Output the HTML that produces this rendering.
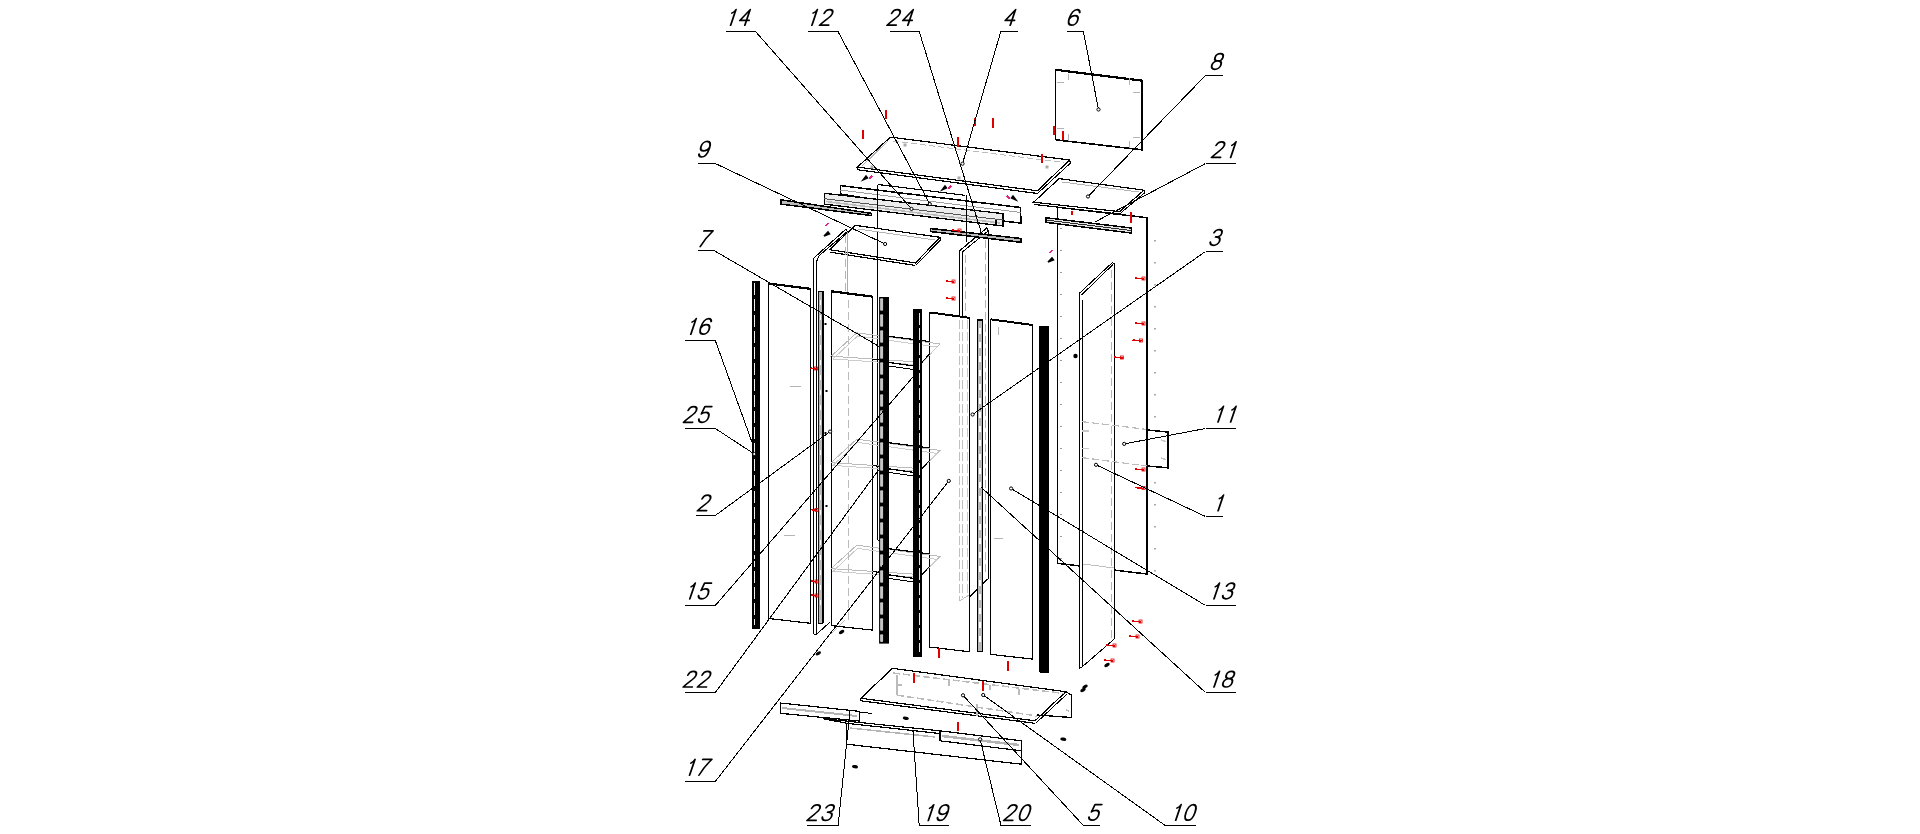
<!DOCTYPE html>
<html><head><meta charset="utf-8"><style>
html,body{margin:0;padding:0;background:#fff;width:1920px;height:834px;overflow:hidden}
svg{display:block}
line,polyline,polygon{shape-rendering:crispEdges}
.lb{font-family:"Liberation Sans",sans-serif;font-style:italic;font-size:23px;fill:#000}
</style></head><body>
<svg width="1920" height="834" viewBox="0 0 1920 834">
<polygon points="1055.8,69.8 1141.8,80.6 1141.8,149.8 1055.8,139.8" stroke="#000" stroke-width="1.2" fill="none" />
<line x1="1055.8" y1="139.8" x2="1141.8" y2="149.8" stroke="#000" stroke-width="1.6" />
<line x1="1141.8" y1="80" x2="1141.8" y2="150.5" stroke="#000" stroke-width="2.2" />
<line x1="1055.8" y1="69.8" x2="1141.8" y2="80.6" stroke="#000" stroke-width="2.2" />
<line x1="1068" y1="74" x2="1068" y2="80" stroke="#b4b4b4" stroke-width="1" />
<line x1="1129" y1="78" x2="1129" y2="85" stroke="#b4b4b4" stroke-width="1" />
<line x1="1057" y1="82" x2="1064" y2="82" stroke="#b4b4b4" stroke-width="1" />
<line x1="1133" y1="92" x2="1140" y2="92" stroke="#b4b4b4" stroke-width="1" />
<line x1="1057" y1="128" x2="1064" y2="128" stroke="#b4b4b4" stroke-width="1" />
<line x1="1133" y1="137" x2="1140" y2="137" stroke="#b4b4b4" stroke-width="1" />
<line x1="1068" y1="134" x2="1068" y2="141" stroke="#b4b4b4" stroke-width="1" />
<line x1="1129" y1="141" x2="1129" y2="148" stroke="#b4b4b4" stroke-width="1" />
<line x1="1053.5" y1="126" x2="1053.5" y2="135" stroke="#e00000" stroke-width="2" />
<line x1="1062.5" y1="131" x2="1062.5" y2="140" stroke="#e00000" stroke-width="2" />
<polygon points="890.4,137.1 1069.5,160 1037.5,190.8 857.4,167.1" stroke="#000" stroke-width="1.2" fill="#fff" />
<line x1="858" y1="169.8" x2="1037.5" y2="193.5" stroke="#000" stroke-width="1.2" />
<line x1="857.4" y1="167.1" x2="858" y2="169.8" stroke="#000" stroke-width="1" />
<line x1="1069.5" y1="160" x2="1070.5" y2="163" stroke="#000" stroke-width="1" />
<line x1="1070.5" y1="163" x2="1037.5" y2="193.5" stroke="#000" stroke-width="1" />
<line x1="893" y1="141" x2="1064" y2="162.5" stroke="#bbb" stroke-width="1" stroke-dasharray="6 3"/>
<line x1="862" y1="166" x2="888" y2="141" stroke="#b4b4b4" stroke-width="1" />
<line x1="862.5" y1="130" x2="862.5" y2="139" stroke="#e00000" stroke-width="2" />
<line x1="885.5" y1="110" x2="885.5" y2="119" stroke="#e00000" stroke-width="2" />
<line x1="958" y1="137" x2="958" y2="147" stroke="#e00000" stroke-width="2" />
<line x1="975" y1="118" x2="975" y2="126" stroke="#e00000" stroke-width="2" />
<line x1="993" y1="118" x2="993" y2="128" stroke="#e00000" stroke-width="2" />
<line x1="1041.5" y1="154" x2="1041.5" y2="163" stroke="#e00000" stroke-width="2" />
<rect x="870.5" y="165.5" width="3" height="3" fill="#aaa"/>
<rect x="957.5" y="176.5" width="3" height="3" fill="#aaa"/>
<rect x="903.5" y="143.5" width="3" height="3" fill="#aaa"/>
<rect x="1045.5" y="165.5" width="3" height="3" fill="#aaa"/>
<rect x="1056.5" y="183.5" width="3" height="3" fill="#aaa"/>
<path d="M863,180 L866,176 L867.5,178 Z" fill="#000" stroke="#000" stroke-width="1.5"/>
<line x1="869" y1="179" x2="872" y2="176" stroke="#e0208a" stroke-width="1.8" />
<path d="M942,190 L945,186 L946.5,188 Z" fill="#000" stroke="#000" stroke-width="1.5"/>
<line x1="948" y1="189" x2="951" y2="186" stroke="#e0208a" stroke-width="1.8" />
<path d="M1016,200 L1013,196 L1011.5,198 Z" fill="#000" stroke="#000" stroke-width="1.5"/>
<line x1="1010" y1="199" x2="1007" y2="196" stroke="#e0208a" stroke-width="1.8" />
<polygon points="1059,178.6 1144,190.2 1119.5,211.6 1033.6,202.2" stroke="#000" stroke-width="1.2" fill="#fff" />
<line x1="1033.6" y1="204.4" x2="1119.5" y2="214.1" stroke="#000" stroke-width="1.2" />
<line x1="1144" y1="190.2" x2="1145" y2="192.5" stroke="#000" stroke-width="1" />
<line x1="1145" y1="192.5" x2="1119.5" y2="214.1" stroke="#000" stroke-width="1" />
<line x1="1062" y1="182" x2="1139" y2="192" stroke="#b4b4b4" stroke-width="1" />
<polygon points="1057.5,207.2 1146.8,217.7 1146.8,574 1057.5,563.3" stroke="#000" stroke-width="1.5" fill="#fff" />
<line x1="1146.8" y1="217.7" x2="1146.8" y2="574" stroke="#000" stroke-width="2" />
<rect x="1060" y="228" width="2" height="1" fill="#999"/>
<rect x="1154" y="240" width="2" height="1.5" fill="#aaa"/>
<rect x="1060" y="250" width="2" height="1" fill="#999"/>
<rect x="1154" y="262" width="2" height="1.5" fill="#aaa"/>
<rect x="1060" y="272" width="2" height="1" fill="#999"/>
<rect x="1154" y="284" width="2" height="1.5" fill="#aaa"/>
<rect x="1060" y="294" width="2" height="1" fill="#999"/>
<rect x="1154" y="306" width="2" height="1.5" fill="#aaa"/>
<rect x="1060" y="316" width="2" height="1" fill="#999"/>
<rect x="1154" y="328" width="2" height="1.5" fill="#aaa"/>
<rect x="1060" y="338" width="2" height="1" fill="#999"/>
<rect x="1154" y="350" width="2" height="1.5" fill="#aaa"/>
<rect x="1060" y="360" width="2" height="1" fill="#999"/>
<rect x="1154" y="372" width="2" height="1.5" fill="#aaa"/>
<rect x="1060" y="382" width="2" height="1" fill="#999"/>
<rect x="1154" y="394" width="2" height="1.5" fill="#aaa"/>
<rect x="1060" y="404" width="2" height="1" fill="#999"/>
<rect x="1154" y="416" width="2" height="1.5" fill="#aaa"/>
<rect x="1060" y="426" width="2" height="1" fill="#999"/>
<rect x="1154" y="438" width="2" height="1.5" fill="#aaa"/>
<rect x="1060" y="448" width="2" height="1" fill="#999"/>
<rect x="1154" y="460" width="2" height="1.5" fill="#aaa"/>
<rect x="1060" y="470" width="2" height="1" fill="#999"/>
<rect x="1154" y="482" width="2" height="1.5" fill="#aaa"/>
<rect x="1060" y="492" width="2" height="1" fill="#999"/>
<rect x="1154" y="504" width="2" height="1.5" fill="#aaa"/>
<rect x="1060" y="514" width="2" height="1" fill="#999"/>
<rect x="1154" y="526" width="2" height="1.5" fill="#aaa"/>
<rect x="1060" y="536" width="2" height="1" fill="#999"/>
<rect x="1154" y="548" width="2" height="1.5" fill="#aaa"/>
<rect x="1060" y="558" width="2" height="1" fill="#999"/>
<rect x="1154" y="570" width="2" height="1.5" fill="#aaa"/>
<polyline points="1147.6,430 1167.8,432 1167.8,467.8 1147.6,466" stroke="#000" stroke-width="1.5" fill="#fff" />
<line x1="1135" y1="278" x2="1144" y2="279" stroke="#e00000" stroke-width="1.5" />
<rect x="1142" y="277" width="3" height="3" fill="none" stroke="#e00000" stroke-width="0.8"/>
<line x1="1135" y1="323" x2="1144" y2="324" stroke="#e00000" stroke-width="1.5" />
<rect x="1142" y="322" width="3" height="3" fill="none" stroke="#e00000" stroke-width="0.8"/>
<line x1="1132.5" y1="340" x2="1141.5" y2="341" stroke="#e00000" stroke-width="1.5" />
<rect x="1139.5" y="339" width="3" height="3" fill="none" stroke="#e00000" stroke-width="0.8"/>
<line x1="1135" y1="469" x2="1144" y2="470" stroke="#e00000" stroke-width="1.5" />
<rect x="1142" y="468" width="3" height="3" fill="none" stroke="#e00000" stroke-width="0.8"/>
<line x1="1135" y1="487.5" x2="1144" y2="488.5" stroke="#e00000" stroke-width="1.5" />
<rect x="1142" y="486.5" width="3" height="3" fill="none" stroke="#e00000" stroke-width="0.8"/>
<line x1="1132" y1="621" x2="1141" y2="622" stroke="#e00000" stroke-width="1.5" />
<rect x="1139" y="620" width="3" height="3" fill="none" stroke="#e00000" stroke-width="0.8"/>
<line x1="1129" y1="636" x2="1138" y2="637" stroke="#e00000" stroke-width="1.5" />
<rect x="1136" y="635" width="3" height="3" fill="none" stroke="#e00000" stroke-width="0.8"/>
<line x1="1146.8" y1="217.7" x2="1146.8" y2="574" stroke="#000" stroke-width="2" />
<polygon points="1045.8,217.7 1131.4,228 1131.4,233 1045.8,222.3" stroke="#000" stroke-width="1.5" fill="#e4e4e4" />
<path d="M1048,262 L1052,258 L1053.5,260 Z" fill="#000" stroke="#000" stroke-width="1.5"/>
<line x1="1050" y1="253" x2="1052" y2="250" stroke="#e0208a" stroke-width="1.8" />
<line x1="1045.8" y1="220" x2="1131.4" y2="230.5" stroke="#000" stroke-width="0.8" />
<line x1="1130.5" y1="212" x2="1130.5" y2="223" stroke="#e00000" stroke-width="2" />
<line x1="1072" y1="211" x2="1072" y2="215" stroke="#e00000" stroke-width="2" />
<polygon points="1079.8,292.9 1112.2,262.7 1114.3,263.5 1114.3,639 1082.4,666.6 1079.6,668.2" stroke="#000" stroke-width="1.0" fill="#fff" />
<line x1="1082.3" y1="300.4" x2="1082.3" y2="666.6" stroke="#000" stroke-width="1" />
<line x1="1081.5" y1="295" x2="1113" y2="264.5" stroke="#000" stroke-width="1" />
<line x1="1111.8" y1="270" x2="1111.8" y2="640" stroke="#b4b4b4" stroke-width="1" stroke-dasharray="8 4"/>
<circle cx="1075.5" cy="356" r="2.2" fill="#000"/>
<line x1="1113.6" y1="357" x2="1122.6" y2="358" stroke="#e00000" stroke-width="1.5" />
<rect x="1120.6" y="356" width="3" height="3" fill="none" stroke="#e00000" stroke-width="0.8"/>
<line x1="1106" y1="645" x2="1115" y2="646" stroke="#e00000" stroke-width="1.5" />
<rect x="1113" y="644" width="3" height="3" fill="none" stroke="#e00000" stroke-width="0.8"/>
<line x1="1104" y1="660" x2="1113" y2="661" stroke="#e00000" stroke-width="1.5" />
<rect x="1111" y="659" width="3" height="3" fill="none" stroke="#e00000" stroke-width="0.8"/>
<ellipse cx="1083" cy="690" rx="3" ry="1.6" fill="#000" transform="rotate(-30 1083 690)"/>
<ellipse cx="1107" cy="665" rx="3" ry="1.6" fill="#000" transform="rotate(-30 1107 665)"/>
<polyline points="959.4,596 959.4,250.9 986.8,227.9 988.2,230.8 988.2,578.7 970,596.3" stroke="#000" stroke-width="1.2" fill="#fff" />
<line x1="962.3" y1="252" x2="962.3" y2="596" stroke="#000" stroke-width="1" />
<line x1="962.3" y1="252" x2="988" y2="231" stroke="#000" stroke-width="1" />
<line x1="965.9" y1="255" x2="965.9" y2="590" stroke="#b4b4b4" stroke-width="1" stroke-dasharray="8 4"/>
<line x1="985.8" y1="240" x2="985.8" y2="575" stroke="#b4b4b4" stroke-width="1" stroke-dasharray="8 4"/>
<line x1="946" y1="281" x2="954" y2="282" stroke="#e00000" stroke-width="1.5" />
<rect x="952" y="280" width="3" height="3" fill="none" stroke="#e00000" stroke-width="0.8"/>
<line x1="946" y1="298" x2="954" y2="299" stroke="#e00000" stroke-width="1.5" />
<rect x="952" y="297" width="3" height="3" fill="none" stroke="#e00000" stroke-width="0.8"/>
<polygon points="840.4,185.6 1020.5,207.5 1021,223.1 1003,221 840.4,194" stroke="#000" stroke-width="1.5" fill="#fff" />
<line x1="878.3" y1="184.5" x2="965" y2="195.3" stroke="#000" stroke-width="1.2" />
<line x1="840.4" y1="190" x2="1020.5" y2="212.5" stroke="#888" stroke-width="0.8" />
<polygon points="824.2,193.3 1002.9,213.6 1002.9,226 824.2,204.1" stroke="#000" stroke-width="1.3" fill="#ececec" />
<line x1="824.2" y1="198.7" x2="1002.9" y2="220" stroke="#555" stroke-width="1.0" />
<line x1="826" y1="201.5" x2="1000" y2="223" stroke="#bbb" stroke-width="1.5" />
<line x1="996" y1="219.5" x2="996" y2="226" stroke="#000" stroke-width="1.2" />
<polygon points="780.8,199.8 871.6,213.4 871.6,215.6 780.8,204.1" stroke="#000" stroke-width="1.5" fill="#bbb" />
<polygon points="930.5,228.5 1021.2,238.5 1021.2,242.3 930.5,231.5" stroke="#000" stroke-width="1.6" fill="#bbb" />
<line x1="952" y1="230" x2="960" y2="231" stroke="#e00000" stroke-width="1.5" />
<rect x="958" y="229" width="3" height="3" fill="none" stroke="#e00000" stroke-width="0.8"/>
<line x1="877.7" y1="184.5" x2="877.7" y2="540" stroke="#000" stroke-width="1" />
<line x1="877.7" y1="540" x2="885" y2="540" stroke="#000" stroke-width="1" />
<line x1="966.3" y1="195" x2="966.3" y2="241.6" stroke="#000" stroke-width="1" />
<polygon points="855.2,225.3 940,237.3 915.5,262.9 829.7,249.7" stroke="#000" stroke-width="1.2" fill="#fff" />
<line x1="829.7" y1="252.1" x2="915.5" y2="265.5" stroke="#000" stroke-width="1.2" />
<line x1="940" y1="237.3" x2="940.5" y2="240" stroke="#000" stroke-width="1" />
<line x1="940.5" y1="240" x2="915.5" y2="265.5" stroke="#000" stroke-width="1" />
<line x1="858" y1="229" x2="935" y2="240" stroke="#b4b4b4" stroke-width="1" />
<line x1="847" y1="232" x2="847" y2="300" stroke="#aaa" stroke-width="1" />
<line x1="877.7" y1="232" x2="877.7" y2="262" stroke="#000" stroke-width="1" />
<path d="M824,236 L828,232 L829.5,234 Z" fill="#000" stroke="#000" stroke-width="1.5"/>
<line x1="826" y1="226" x2="828" y2="223" stroke="#e0208a" stroke-width="1.8" />
<polyline points="813.4,633.7 813.4,258.4 846,229.1 847.5,231.5 819.2,255.5 816.3,262 816.3,634.6" stroke="#000" stroke-width="1.1" fill="#fff" />
<line x1="813.4" y1="633.7" x2="816.3" y2="634.6" stroke="#000" stroke-width="1" />
<line x1="816.3" y1="634.6" x2="830" y2="622" stroke="#000" stroke-width="1" />
<line x1="845.5" y1="235" x2="845.5" y2="620" stroke="#b4b4b4" stroke-width="1" stroke-dasharray="8 4"/>
<polygon points="768.8,283.5 810.5,288.9 810.5,623.3 768.8,618.5" stroke="#000" stroke-width="1.2" fill="#fff" />
<line x1="768.8" y1="283.5" x2="810.7" y2="288.9" stroke="#000" stroke-width="2.2" />
<line x1="790" y1="386" x2="801" y2="387" stroke="#b4b4b4" stroke-width="1" />
<line x1="784" y1="535" x2="795" y2="536" stroke="#b4b4b4" stroke-width="1" />
<polygon points="831.4,291.3 872.5,296.7 872.5,630.1 831.4,625.6" stroke="#000" stroke-width="1.2" fill="#fff" />
<line x1="831.4" y1="291.3" x2="872.9" y2="296.7" stroke="#000" stroke-width="2.2" />
<polygon points="929.5,312.4 969.5,317.8 969.5,651.8 929.5,647" stroke="#000" stroke-width="1.2" fill="#fff" />
<line x1="929.5" y1="312.4" x2="969.5" y2="317.8" stroke="#000" stroke-width="2" />
<polygon points="990.4,319.3 1032.5,325 1032.5,659.1 990.4,654.3" stroke="#000" stroke-width="1.2" fill="#fff" />
<line x1="990.4" y1="319.3" x2="1032.5" y2="325" stroke="#000" stroke-width="2" />
<line x1="998" y1="327" x2="998" y2="335" stroke="#b4b4b4" stroke-width="1" />
<line x1="994" y1="538" x2="1003" y2="539" stroke="#b4b4b4" stroke-width="1" />
<line x1="1008" y1="661" x2="1008" y2="671" stroke="#e00000" stroke-width="2" />
<line x1="939" y1="648" x2="939" y2="658" stroke="#e00000" stroke-width="2" />
<polygon points="831.2,356.2 856.7,332.8 940.3,344 922,362.3" stroke="#bbb" stroke-width="1" fill="none" />
<polygon points="833,359 857.5,336 937,347 920,365" stroke="#ccc" stroke-width="1" fill="none" />
<line x1="831.2" y1="356.2" x2="831.2" y2="360" stroke="#000" stroke-width="1.3" />
<polygon points="831.2,462.6 856.7,439.20000000000005 940.3,450.4 922,468.70000000000005" stroke="#bbb" stroke-width="1" fill="none" />
<polygon points="833,465.4 857.5,442.4 937,453.4 920,471.4" stroke="#ccc" stroke-width="1" fill="none" />
<line x1="831.2" y1="462.6" x2="831.2" y2="466.4" stroke="#000" stroke-width="1.3" />
<polygon points="831.2,568.6 856.7,545.2 940.3,556.4 922,574.7" stroke="#bbb" stroke-width="1" fill="none" />
<polygon points="833,571.4 857.5,548.4 937,559.4 920,577.4" stroke="#ccc" stroke-width="1" fill="none" />
<line x1="831.2" y1="568.6" x2="831.2" y2="572.4" stroke="#000" stroke-width="1.3" />
<line x1="959.7" y1="320" x2="959.7" y2="601" stroke="#c0c0c0" stroke-width="1" stroke-dasharray="9 3"/>
<line x1="962.8" y1="320" x2="962.8" y2="598" stroke="#c0c0c0" stroke-width="1" stroke-dasharray="9 3"/>
<line x1="967.9" y1="320" x2="967.9" y2="596" stroke="#c8c8c8" stroke-width="1" stroke-dasharray="9 3"/>
<line x1="959.7" y1="601" x2="969" y2="595" stroke="#c0c0c0" stroke-width="1" />
<line x1="1083" y1="564" x2="1114" y2="568" stroke="#c0c0c0" stroke-width="1" />
<line x1="1082" y1="421.6" x2="1146.5" y2="429.4" stroke="#bbb" stroke-width="1.2" stroke-dasharray="7 3"/>
<line x1="1082" y1="457.6" x2="1146.5" y2="466" stroke="#bbb" stroke-width="1.2" stroke-dasharray="7 3"/>
<line x1="1082" y1="431" x2="1089" y2="431" stroke="#c8c8c8" stroke-width="1.5" />
<line x1="1082" y1="448.6" x2="1089" y2="448.6" stroke="#c8c8c8" stroke-width="1.5" />
<line x1="1161" y1="440" x2="1166" y2="441.5" stroke="#c8c8c8" stroke-width="1.5" />
<line x1="1161" y1="458" x2="1166" y2="459.5" stroke="#c8c8c8" stroke-width="1.5" />
<line x1="848" y1="300" x2="848" y2="620" stroke="#bbb" stroke-width="1" stroke-dasharray="8 4"/>
<line x1="845" y1="620" x2="830" y2="635" stroke="#bbb" stroke-width="1" stroke-dasharray="8 4"/>
<line x1="888.6" y1="336.3" x2="929.5" y2="341.5" stroke="#000" stroke-width="1.2" />
<line x1="888.6" y1="362.4" x2="913.8" y2="366" stroke="#000" stroke-width="1.2" />
<line x1="888.6" y1="366" x2="913.8" y2="369.6" stroke="#000" stroke-width="1.0" />
<line x1="922" y1="362.3" x2="929.5" y2="354" stroke="#000" stroke-width="1.1" />
<line x1="872.9" y1="359" x2="879" y2="360" stroke="#000" stroke-width="1.1" />
<line x1="888.6" y1="442.70000000000005" x2="929.5" y2="447.9" stroke="#000" stroke-width="1.2" />
<line x1="888.6" y1="468.79999999999995" x2="913.8" y2="472.4" stroke="#000" stroke-width="1.2" />
<line x1="888.6" y1="472.4" x2="913.8" y2="476.0" stroke="#000" stroke-width="1.0" />
<line x1="922" y1="468.70000000000005" x2="929.5" y2="460.4" stroke="#000" stroke-width="1.1" />
<line x1="872.9" y1="465.4" x2="879" y2="466.4" stroke="#000" stroke-width="1.1" />
<line x1="888.6" y1="548.7" x2="929.5" y2="553.9" stroke="#000" stroke-width="1.2" />
<line x1="888.6" y1="574.8" x2="913.8" y2="578.4" stroke="#000" stroke-width="1.2" />
<line x1="888.6" y1="578.4" x2="913.8" y2="582.0" stroke="#000" stroke-width="1.0" />
<line x1="922" y1="574.7" x2="929.5" y2="566.4" stroke="#000" stroke-width="1.1" />
<line x1="872.9" y1="571.4" x2="879" y2="572.4" stroke="#000" stroke-width="1.1" />
<polygon points="752.4,281.5 759.6,282 759.6,628 752.4,628" stroke="#000" stroke-width="1" fill="#000" stroke-linejoin="round"/>
<line x1="754.6" y1="283" x2="754.6" y2="625" stroke="#eee" stroke-width="1.0" stroke-dasharray="12 4"/>
<rect x="818.3" y="291.3" width="5.5" height="331.7" fill="#b8b8b8" />
<line x1="818.4" y1="291.3" x2="818.4" y2="623" stroke="#000" stroke-width="0.9" />
<line x1="823.2" y1="291.3" x2="823.2" y2="623" stroke="#000" stroke-width="1.6" />
<line x1="818.4" y1="291.5" x2="823.2" y2="291.5" stroke="#000" stroke-width="1" />
<line x1="820.6" y1="300" x2="820.6" y2="615" stroke="#fff" stroke-width="1.6" stroke-dasharray="5 10"/>
<line x1="818.4" y1="623" x2="823.2" y2="623" stroke="#000" stroke-width="1" />
<line x1="810.5" y1="368" x2="816.5" y2="369" stroke="#e00000" stroke-width="1.5" />
<rect x="814.5" y="367" width="3" height="3" fill="none" stroke="#e00000" stroke-width="0.8"/>
<line x1="811" y1="509.5" x2="817" y2="510.5" stroke="#e00000" stroke-width="1.5" />
<rect x="815" y="508.5" width="3" height="3" fill="none" stroke="#e00000" stroke-width="0.8"/>
<line x1="811" y1="581" x2="817" y2="582" stroke="#e00000" stroke-width="1.5" />
<rect x="815" y="580" width="3" height="3" fill="none" stroke="#e00000" stroke-width="0.8"/>
<line x1="811" y1="595" x2="817" y2="596" stroke="#e00000" stroke-width="1.5" />
<rect x="815" y="594" width="3" height="3" fill="none" stroke="#e00000" stroke-width="0.8"/>
<rect x="824.5" y="323" width="2" height="2" fill="#000"/>
<rect x="825.5" y="390" width="2" height="2" fill="#000"/>
<rect x="824.5" y="432" width="2" height="2" fill="#000"/>
<rect x="825.5" y="505" width="2" height="2" fill="#000"/>
<rect x="879.1" y="297" width="9.9" height="346.6" fill="#000" />
<rect x="880.1" y="298.3" width="3" height="12.5" rx="1" fill="#c4c4c4"/>
<rect x="880.1" y="314.3" width="3" height="12.5" rx="1" fill="#c4c4c4"/>
<rect x="880.1" y="330.3" width="3" height="12.5" rx="1" fill="#c4c4c4"/>
<rect x="880.1" y="346.3" width="3" height="12.5" rx="1" fill="#c4c4c4"/>
<rect x="880.1" y="362.3" width="3" height="12.5" rx="1" fill="#c4c4c4"/>
<rect x="880.1" y="378.3" width="3" height="12.5" rx="1" fill="#c4c4c4"/>
<rect x="880.1" y="394.3" width="3" height="12.5" rx="1" fill="#c4c4c4"/>
<rect x="880.1" y="410.3" width="3" height="12.5" rx="1" fill="#c4c4c4"/>
<rect x="880.1" y="426.3" width="3" height="12.5" rx="1" fill="#c4c4c4"/>
<rect x="880.1" y="442.3" width="3" height="12.5" rx="1" fill="#c4c4c4"/>
<rect x="880.1" y="458.3" width="3" height="12.5" rx="1" fill="#c4c4c4"/>
<rect x="880.1" y="474.3" width="3" height="12.5" rx="1" fill="#c4c4c4"/>
<rect x="880.1" y="490.3" width="3" height="12.5" rx="1" fill="#c4c4c4"/>
<rect x="880.1" y="506.3" width="3" height="12.5" rx="1" fill="#c4c4c4"/>
<rect x="880.1" y="522.3" width="3" height="12.5" rx="1" fill="#c4c4c4"/>
<rect x="880.1" y="538.3" width="3" height="12.5" rx="1" fill="#c4c4c4"/>
<rect x="880.1" y="554.3" width="3" height="12.5" rx="1" fill="#c4c4c4"/>
<rect x="880.1" y="570.3" width="3" height="12.5" rx="1" fill="#c4c4c4"/>
<rect x="880.1" y="586.3" width="3" height="12.5" rx="1" fill="#c4c4c4"/>
<rect x="880.1" y="602.3" width="3" height="12.5" rx="1" fill="#c4c4c4"/>
<rect x="880.1" y="618.3" width="3" height="12.5" rx="1" fill="#c4c4c4"/>
<rect x="880.1" y="634.3" width="3" height="7.7" rx="1" fill="#c4c4c4"/>
<polygon points="913.2,309.3 921.7,309.3 921.7,656.2 913.2,656.2" stroke="#000" stroke-width="1" fill="#000" stroke-linejoin="round"/>
<line x1="919.5" y1="313" x2="919.5" y2="652" stroke="#e8e8e8" stroke-width="1.2" stroke-dasharray="12 3"/>
<rect x="977.4" y="320" width="5" height="331.8" fill="#b8b8b8" />
<polygon points="977.4,320 982.4,320 982.4,651.8 977.4,651.8" stroke="#000" stroke-width="1.2" fill="none" />
<line x1="979.9" y1="328" x2="979.9" y2="645" stroke="#fff" stroke-width="1.3" stroke-dasharray="6 8"/>
<polygon points="1039.5,326 1048.5,326 1048.6,672 1039.5,672" stroke="#000" stroke-width="1" fill="#000" stroke-linejoin="round"/>
<polygon points="892.5,668.3 1065.8,691.7 1035,720.8 860.8,698.3" stroke="#000" stroke-width="1.2" fill="#fff" />
<line x1="860.8" y1="700.8" x2="1035" y2="723.3" stroke="#000" stroke-width="1.2" />
<line x1="860.8" y1="698.3" x2="860.8" y2="700.8" stroke="#000" stroke-width="1" />
<polyline points="1065.8,691.7 1071.3,695 1071.3,717.5 1036.7,715" stroke="#000" stroke-width="1.3" fill="none" />
<line x1="1067" y1="694" x2="1036" y2="723" stroke="#000" stroke-width="1" />
<line x1="893" y1="673" x2="1064" y2="693.5" stroke="#bbb" stroke-width="1.5" stroke-dasharray="7 3"/>
<line x1="897" y1="675" x2="897" y2="695" stroke="#bbb" stroke-width="1.5" />
<line x1="897" y1="695.2" x2="1037" y2="716" stroke="#bbb" stroke-width="1.5" stroke-dasharray="7 3"/>
<line x1="949" y1="679.5" x2="949" y2="686" stroke="#bbb" stroke-width="1.5" />
<line x1="1019" y1="689" x2="1019" y2="695" stroke="#bbb" stroke-width="1.5" />
<line x1="990" y1="685" x2="990" y2="690" stroke="#bbb" stroke-width="1.5" />
<line x1="897" y1="685" x2="902" y2="685" stroke="#bbb" stroke-width="1.5" />
<line x1="977" y1="704" x2="977" y2="716" stroke="#bbb" stroke-width="1.5" />
<line x1="1066" y1="710" x2="1069" y2="711" stroke="#bbb" stroke-width="1.5" />
<line x1="914" y1="673" x2="914" y2="683" stroke="#e00000" stroke-width="2" />
<line x1="983" y1="681" x2="983" y2="691" stroke="#e00000" stroke-width="2" />
<line x1="958" y1="722" x2="958" y2="731" stroke="#e00000" stroke-width="2" />
<ellipse cx="905.8" cy="718.3" rx="3" ry="1.6" fill="#000" transform="rotate(10 905.8 718.3)"/>
<ellipse cx="1063.3" cy="739.2" rx="3" ry="1.6" fill="#000" transform="rotate(10 1063.3 739.2)"/>
<ellipse cx="855" cy="766.7" rx="3" ry="1.6" fill="#000" transform="rotate(10 855 766.7)"/>
<ellipse cx="1085" cy="686.7" rx="3" ry="1.6" fill="#000" transform="rotate(-30 1085 686.7)"/>
<ellipse cx="818.3" cy="653.3" rx="3" ry="1.6" fill="#000" transform="rotate(-30 818.3 653.3)"/>
<ellipse cx="841.6" cy="632" rx="3" ry="1.6" fill="#000" transform="rotate(-30 841.6 632)"/>
<polygon points="780.3,703 859.2,711.3 859.2,721 780.3,713.3" stroke="#000" stroke-width="1.2" fill="#fff" />
<line x1="782" y1="708" x2="857" y2="716" stroke="#b4b4b4" stroke-width="2" />
<line x1="859.2" y1="712" x2="872" y2="713.5" stroke="#000" stroke-width="1" />
<polygon points="823.3,718.7 940,730.8 1021.3,740.8 1021.3,764.2 846.7,744.2 846.7,723.3" stroke="#000" stroke-width="1.2" fill="#fff" />
<line x1="846.7" y1="723.3" x2="940" y2="733.5" stroke="#000" stroke-width="1.2" />
<line x1="940" y1="730.8" x2="940" y2="740.8" stroke="#000" stroke-width="1.2" />
<line x1="940" y1="740.8" x2="1021.3" y2="750.8" stroke="#000" stroke-width="1.2" />
<line x1="942" y1="736" x2="1019" y2="745" stroke="#b4b4b4" stroke-width="2.5" />
<line x1="850" y1="728" x2="935" y2="737" stroke="#b4b4b4" stroke-width="1.5" />
<path d="M2.2,-12.8 C3.6,-13.6 4.6,-14.8 5.0,-16.5 L5.0,0" transform="translate(725.66,25.2) matrix(1,0,-0.3215,0.9455,0,0)" fill="none" stroke="#000" stroke-width="1.85" stroke-linecap="round" stroke-linejoin="round"/>
<path d="M6.6,0 L6.6,-16.5 L0,-5.0 L9.2,-5.0" transform="translate(738.26,25.2) matrix(1,0,-0.3215,0.9455,0,0)" fill="none" stroke="#000" stroke-width="1.85" stroke-linecap="round" stroke-linejoin="round"/>
<line x1="726" y1="31.5" x2="755.5" y2="31.5" stroke="#000" stroke-width="1.1" />
<line x1="755.5" y1="31.5" x2="911.5" y2="208.9" stroke="#000" stroke-width="1.0" />
<circle cx="911.5" cy="208.9" r="1.6" stroke="#000" stroke-width="1" fill="#fff"/>
<path d="M2.2,-12.8 C3.6,-13.6 4.6,-14.8 5.0,-16.5 L5.0,0" transform="translate(806.96,25.2) matrix(1,0,-0.3215,0.9455,0,0)" fill="none" stroke="#000" stroke-width="1.85" stroke-linecap="round" stroke-linejoin="round"/>
<path d="M0.6,-12.6 C1.0,-15.2 2.7,-16.5 4.7,-16.5 C7.0,-16.5 8.8,-14.9 8.8,-12.5 C8.8,-8.7 4.5,-6.6 0,0 L9,0" transform="translate(819.56,25.2) matrix(1,0,-0.3215,0.9455,0,0)" fill="none" stroke="#000" stroke-width="1.85" stroke-linecap="round" stroke-linejoin="round"/>
<line x1="808" y1="31.5" x2="838" y2="31.5" stroke="#000" stroke-width="1.1" />
<line x1="838" y1="31.5" x2="929.8" y2="204.1" stroke="#000" stroke-width="1.0" />
<circle cx="929.8" cy="204.1" r="1.6" stroke="#000" stroke-width="1" fill="#fff"/>
<path d="M0.6,-12.6 C1.0,-15.2 2.7,-16.5 4.7,-16.5 C7.0,-16.5 8.8,-14.9 8.8,-12.5 C8.8,-8.7 4.5,-6.6 0,0 L9,0" transform="translate(887.06,25.2) matrix(1,0,-0.3215,0.9455,0,0)" fill="none" stroke="#000" stroke-width="1.85" stroke-linecap="round" stroke-linejoin="round"/>
<path d="M6.6,0 L6.6,-16.5 L0,-5.0 L9.2,-5.0" transform="translate(901.26,25.2) matrix(1,0,-0.3215,0.9455,0,0)" fill="none" stroke="#000" stroke-width="1.85" stroke-linecap="round" stroke-linejoin="round"/>
<line x1="889.8" y1="31.5" x2="919.2" y2="31.5" stroke="#000" stroke-width="1.1" />
<line x1="919.2" y1="31.5" x2="981.6" y2="233.5" stroke="#000" stroke-width="1.0" />
<path d="M6.6,0 L6.6,-16.5 L0,-5.0 L9.2,-5.0" transform="translate(1003.66,25.2) matrix(1,0,-0.3215,0.9455,0,0)" fill="none" stroke="#000" stroke-width="1.85" stroke-linecap="round" stroke-linejoin="round"/>
<line x1="1000.8" y1="31.5" x2="1018.4" y2="31.5" stroke="#000" stroke-width="1.1" />
<line x1="1000.8" y1="31.5" x2="962.5" y2="163.7" stroke="#000" stroke-width="1.0" />
<circle cx="962.5" cy="163.7" r="1.6" stroke="#000" stroke-width="1" fill="#fff"/>
<path d="M8.5,-13.4 C7.9,-15.4 6.6,-16.5 4.8,-16.5 C1.7,-16.5 0,-13.2 0,-7.5 C0,-2.6 1.8,0 4.6,0 C7.2,0 9,-2.1 9,-5.1 C9,-8.1 7.2,-10.1 4.7,-10.1 C2.4,-10.1 0.7,-8.6 0.1,-6.2" transform="translate(1066.96,25.2) matrix(1,0,-0.3215,0.9455,0,0)" fill="none" stroke="#000" stroke-width="1.85" stroke-linecap="round" stroke-linejoin="round"/>
<line x1="1067" y1="31.5" x2="1083.4" y2="31.5" stroke="#000" stroke-width="1.1" />
<line x1="1083.4" y1="31.5" x2="1098.5" y2="109.5" stroke="#000" stroke-width="1.0" />
<circle cx="1098.5" cy="109.5" r="1.6" stroke="#000" stroke-width="1" fill="#fff"/>
<path d="M4.5,-8.8 C2.0,-8.8 0.6,-10.4 0.6,-12.6 C0.6,-15 2.4,-16.5 4.5,-16.5 C6.6,-16.5 8.4,-15 8.4,-12.6 C8.4,-10.4 7.0,-8.8 4.5,-8.8 C1.7,-8.8 0,-7 0,-4.5 C0,-1.8 2.0,0 4.5,0 C7.0,0 9,-1.8 9,-4.5 C9,-7 7.3,-8.8 4.5,-8.8 Z" transform="translate(1210.46,69.3) matrix(1,0,-0.3215,0.9455,0,0)" fill="none" stroke="#000" stroke-width="1.85" stroke-linecap="round" stroke-linejoin="round"/>
<line x1="1205.5" y1="75.5" x2="1223.2" y2="75.5" stroke="#000" stroke-width="1.1" />
<line x1="1205.5" y1="75.5" x2="1088" y2="196.5" stroke="#000" stroke-width="1.0" />
<circle cx="1088" cy="196.5" r="1.6" stroke="#000" stroke-width="1" fill="#fff"/>
<path d="M0.6,-12.6 C1.0,-15.2 2.7,-16.5 4.7,-16.5 C7.0,-16.5 8.8,-14.9 8.8,-12.5 C8.8,-8.7 4.5,-6.6 0,0 L9,0" transform="translate(1211.46,157.4) matrix(1,0,-0.3215,0.9455,0,0)" fill="none" stroke="#000" stroke-width="1.85" stroke-linecap="round" stroke-linejoin="round"/>
<path d="M2.2,-12.8 C3.6,-13.6 4.6,-14.8 5.0,-16.5 L5.0,0" transform="translate(1225.66,157.4) matrix(1,0,-0.3215,0.9455,0,0)" fill="none" stroke="#000" stroke-width="1.85" stroke-linecap="round" stroke-linejoin="round"/>
<line x1="1205.5" y1="163.5" x2="1235.7" y2="163.5" stroke="#000" stroke-width="1.1" />
<line x1="1205.5" y1="163.5" x2="1095.5" y2="221.7" stroke="#000" stroke-width="1.0" />
<path d="M0.5,-3.1 C1.1,-1.1 2.4,0 4.2,0 C7.3,0 9,-3.3 9,-9.0 C9,-13.9 7.2,-16.5 4.4,-16.5 C1.8,-16.5 0,-14.4 0,-11.4 C0,-8.4 1.8,-6.4 4.3,-6.4 C6.6,-6.4 8.3,-7.9 8.9,-10.3" transform="translate(697.46,157) matrix(1,0,-0.3215,0.9455,0,0)" fill="none" stroke="#000" stroke-width="1.85" stroke-linecap="round" stroke-linejoin="round"/>
<line x1="697.6" y1="163.5" x2="715.3" y2="163.5" stroke="#000" stroke-width="1.1" />
<line x1="715.3" y1="163.5" x2="885.1" y2="244" stroke="#000" stroke-width="1.0" />
<circle cx="885.1" cy="244" r="1.6" stroke="#000" stroke-width="1" fill="#fff"/>
<path d="M0.6,-13.4 C1.3,-15.5 2.8,-16.5 4.6,-16.5 C6.9,-16.5 8.5,-15 8.5,-12.6 C8.5,-10.2 6.8,-8.8 3.6,-8.8 C7.0,-8.8 9,-7 9,-4.5 C9,-1.7 7.0,0 4.5,0 C2.3,0 0.7,-1.0 0,-3.4" transform="translate(1209.16,245.3) matrix(1,0,-0.3215,0.9455,0,0)" fill="none" stroke="#000" stroke-width="1.85" stroke-linecap="round" stroke-linejoin="round"/>
<line x1="1205.5" y1="251.5" x2="1223.2" y2="251.5" stroke="#000" stroke-width="1.1" />
<line x1="1205.5" y1="251.5" x2="972.6" y2="414.5" stroke="#000" stroke-width="1.0" />
<circle cx="972.6" cy="414.5" r="1.6" stroke="#000" stroke-width="1" fill="#fff"/>
<path d="M0.2,-16.5 L9.2,-16.5 C6.8,-13 3.6,-7.5 1.8,0" transform="translate(698.46,246.5) matrix(1,0,-0.3215,0.9455,0,0)" fill="none" stroke="#000" stroke-width="1.85" stroke-linecap="round" stroke-linejoin="round"/>
<line x1="698" y1="250.5" x2="714" y2="250.5" stroke="#000" stroke-width="1.1" />
<line x1="714" y1="250.5" x2="878.7" y2="346.2" stroke="#000" stroke-width="1.0" />
<path d="M2.2,-12.8 C3.6,-13.6 4.6,-14.8 5.0,-16.5 L5.0,0" transform="translate(685.86,334.2) matrix(1,0,-0.3215,0.9455,0,0)" fill="none" stroke="#000" stroke-width="1.85" stroke-linecap="round" stroke-linejoin="round"/>
<path d="M8.5,-13.4 C7.9,-15.4 6.6,-16.5 4.8,-16.5 C1.7,-16.5 0,-13.2 0,-7.5 C0,-2.6 1.8,0 4.6,0 C7.2,0 9,-2.1 9,-5.1 C9,-8.1 7.2,-10.1 4.7,-10.1 C2.4,-10.1 0.7,-8.6 0.1,-6.2" transform="translate(698.46,334.2) matrix(1,0,-0.3215,0.9455,0,0)" fill="none" stroke="#000" stroke-width="1.85" stroke-linecap="round" stroke-linejoin="round"/>
<line x1="685" y1="340.5" x2="715.3" y2="340.5" stroke="#000" stroke-width="1.1" />
<line x1="715.3" y1="340.5" x2="753" y2="445" stroke="#000" stroke-width="1.0" />
<path d="M0.6,-12.6 C1.0,-15.2 2.7,-16.5 4.7,-16.5 C7.0,-16.5 8.8,-14.9 8.8,-12.5 C8.8,-8.7 4.5,-6.6 0,0 L9,0" transform="translate(683.56,422.3) matrix(1,0,-0.3215,0.9455,0,0)" fill="none" stroke="#000" stroke-width="1.85" stroke-linecap="round" stroke-linejoin="round"/>
<path d="M8.6,-16.5 L1.8,-16.5 L0.8,-8.9 C2.0,-9.9 3.2,-10.4 4.7,-10.4 C7.2,-10.4 9,-8.4 9,-5.2 C9,-2.0 7.0,0 4.5,0 C2.3,0 0.7,-1.0 0,-3.3" transform="translate(697.76,422.3) matrix(1,0,-0.3215,0.9455,0,0)" fill="none" stroke="#000" stroke-width="1.85" stroke-linecap="round" stroke-linejoin="round"/>
<line x1="685" y1="428.5" x2="715.3" y2="428.5" stroke="#000" stroke-width="1.1" />
<line x1="715.3" y1="428.5" x2="754.3" y2="454" stroke="#000" stroke-width="1.0" />
<circle cx="754.3" cy="454" r="1.6" stroke="#000" stroke-width="1" fill="#fff"/>
<path d="M2.2,-12.8 C3.6,-13.6 4.6,-14.8 5.0,-16.5 L5.0,0" transform="translate(1213.06,422) matrix(1,0,-0.3215,0.9455,0,0)" fill="none" stroke="#000" stroke-width="1.85" stroke-linecap="round" stroke-linejoin="round"/>
<path d="M2.2,-12.8 C3.6,-13.6 4.6,-14.8 5.0,-16.5 L5.0,0" transform="translate(1225.66,422) matrix(1,0,-0.3215,0.9455,0,0)" fill="none" stroke="#000" stroke-width="1.85" stroke-linecap="round" stroke-linejoin="round"/>
<line x1="1205.5" y1="428.5" x2="1235.7" y2="428.5" stroke="#000" stroke-width="1.1" />
<line x1="1205.5" y1="428.5" x2="1124.2" y2="443.9" stroke="#000" stroke-width="1.0" />
<circle cx="1124.2" cy="443.9" r="1.6" stroke="#000" stroke-width="1" fill="#fff"/>
<path d="M0.6,-12.6 C1.0,-15.2 2.7,-16.5 4.7,-16.5 C7.0,-16.5 8.8,-14.9 8.8,-12.5 C8.8,-8.7 4.5,-6.6 0,0 L9,0" transform="translate(697.46,510.7) matrix(1,0,-0.3215,0.9455,0,0)" fill="none" stroke="#000" stroke-width="1.85" stroke-linecap="round" stroke-linejoin="round"/>
<line x1="696.4" y1="515.5" x2="715.3" y2="515.5" stroke="#000" stroke-width="1.1" />
<line x1="715.3" y1="515.5" x2="830.1" y2="431.6" stroke="#000" stroke-width="1.0" />
<circle cx="830.1" cy="431.6" r="1.6" stroke="#000" stroke-width="1" fill="#fff"/>
<path d="M2.2,-12.8 C3.6,-13.6 4.6,-14.8 5.0,-16.5 L5.0,0" transform="translate(1213.16,510.7) matrix(1,0,-0.3215,0.9455,0,0)" fill="none" stroke="#000" stroke-width="1.85" stroke-linecap="round" stroke-linejoin="round"/>
<line x1="1205.5" y1="516.5" x2="1223.2" y2="516.5" stroke="#000" stroke-width="1.1" />
<line x1="1205.5" y1="516.5" x2="1096" y2="464.8" stroke="#000" stroke-width="1.0" />
<circle cx="1096" cy="464.8" r="1.6" stroke="#000" stroke-width="1" fill="#fff"/>
<path d="M2.2,-12.8 C3.6,-13.6 4.6,-14.8 5.0,-16.5 L5.0,0" transform="translate(684.86,598.8) matrix(1,0,-0.3215,0.9455,0,0)" fill="none" stroke="#000" stroke-width="1.85" stroke-linecap="round" stroke-linejoin="round"/>
<path d="M8.6,-16.5 L1.8,-16.5 L0.8,-8.9 C2.0,-9.9 3.2,-10.4 4.7,-10.4 C7.2,-10.4 9,-8.4 9,-5.2 C9,-2.0 7.0,0 4.5,0 C2.3,0 0.7,-1.0 0,-3.3" transform="translate(697.46,598.8) matrix(1,0,-0.3215,0.9455,0,0)" fill="none" stroke="#000" stroke-width="1.85" stroke-linecap="round" stroke-linejoin="round"/>
<line x1="685" y1="605.5" x2="715.3" y2="605.5" stroke="#000" stroke-width="1.1" />
<line x1="715.3" y1="605.5" x2="912.9" y2="377.1" stroke="#000" stroke-width="1.0" />
<path d="M2.2,-12.8 C3.6,-13.6 4.6,-14.8 5.0,-16.5 L5.0,0" transform="translate(1209.06,598.8) matrix(1,0,-0.3215,0.9455,0,0)" fill="none" stroke="#000" stroke-width="1.85" stroke-linecap="round" stroke-linejoin="round"/>
<path d="M0.6,-13.4 C1.3,-15.5 2.8,-16.5 4.6,-16.5 C6.9,-16.5 8.5,-15 8.5,-12.6 C8.5,-10.2 6.8,-8.8 3.6,-8.8 C7.0,-8.8 9,-7 9,-4.5 C9,-1.7 7.0,0 4.5,0 C2.3,0 0.7,-1.0 0,-3.4" transform="translate(1221.66,598.8) matrix(1,0,-0.3215,0.9455,0,0)" fill="none" stroke="#000" stroke-width="1.85" stroke-linecap="round" stroke-linejoin="round"/>
<line x1="1205.5" y1="605.5" x2="1235.7" y2="605.5" stroke="#000" stroke-width="1.1" />
<line x1="1205.5" y1="605.5" x2="1011.1" y2="488.5" stroke="#000" stroke-width="1.0" />
<circle cx="1011.1" cy="488.5" r="1.6" stroke="#000" stroke-width="1" fill="#fff"/>
<path d="M0.6,-12.6 C1.0,-15.2 2.7,-16.5 4.7,-16.5 C7.0,-16.5 8.8,-14.9 8.8,-12.5 C8.8,-8.7 4.5,-6.6 0,0 L9,0" transform="translate(683.26,687) matrix(1,0,-0.3215,0.9455,0,0)" fill="none" stroke="#000" stroke-width="1.85" stroke-linecap="round" stroke-linejoin="round"/>
<path d="M0.6,-12.6 C1.0,-15.2 2.7,-16.5 4.7,-16.5 C7.0,-16.5 8.8,-14.9 8.8,-12.5 C8.8,-8.7 4.5,-6.6 0,0 L9,0" transform="translate(697.46,687) matrix(1,0,-0.3215,0.9455,0,0)" fill="none" stroke="#000" stroke-width="1.85" stroke-linecap="round" stroke-linejoin="round"/>
<line x1="685" y1="692.5" x2="715.3" y2="692.5" stroke="#000" stroke-width="1.1" />
<line x1="715.3" y1="692.5" x2="878.5" y2="470" stroke="#000" stroke-width="1.0" />
<path d="M2.2,-12.8 C3.6,-13.6 4.6,-14.8 5.0,-16.5 L5.0,0" transform="translate(1209.06,687) matrix(1,0,-0.3215,0.9455,0,0)" fill="none" stroke="#000" stroke-width="1.85" stroke-linecap="round" stroke-linejoin="round"/>
<path d="M4.5,-8.8 C2.0,-8.8 0.6,-10.4 0.6,-12.6 C0.6,-15 2.4,-16.5 4.5,-16.5 C6.6,-16.5 8.4,-15 8.4,-12.6 C8.4,-10.4 7.0,-8.8 4.5,-8.8 C1.7,-8.8 0,-7 0,-4.5 C0,-1.8 2.0,0 4.5,0 C7.0,0 9,-1.8 9,-4.5 C9,-7 7.3,-8.8 4.5,-8.8 Z" transform="translate(1221.66,687) matrix(1,0,-0.3215,0.9455,0,0)" fill="none" stroke="#000" stroke-width="1.85" stroke-linecap="round" stroke-linejoin="round"/>
<line x1="1205.5" y1="692.5" x2="1235.7" y2="692.5" stroke="#000" stroke-width="1.1" />
<line x1="1205.5" y1="692.5" x2="981.4" y2="487.5" stroke="#000" stroke-width="1.0" />
<path d="M2.2,-12.8 C3.6,-13.6 4.6,-14.8 5.0,-16.5 L5.0,0" transform="translate(684.66,775.1) matrix(1,0,-0.3215,0.9455,0,0)" fill="none" stroke="#000" stroke-width="1.85" stroke-linecap="round" stroke-linejoin="round"/>
<path d="M0.2,-16.5 L9.2,-16.5 C6.8,-13 3.6,-7.5 1.8,0" transform="translate(697.26,775.1) matrix(1,0,-0.3215,0.9455,0,0)" fill="none" stroke="#000" stroke-width="1.85" stroke-linecap="round" stroke-linejoin="round"/>
<line x1="685" y1="781.5" x2="715.3" y2="781.5" stroke="#000" stroke-width="1.1" />
<line x1="715.3" y1="781.5" x2="948.8" y2="480.9" stroke="#000" stroke-width="1.0" />
<circle cx="948.8" cy="480.9" r="1.6" stroke="#000" stroke-width="1" fill="#fff"/>
<path d="M0.6,-12.6 C1.0,-15.2 2.7,-16.5 4.7,-16.5 C7.0,-16.5 8.8,-14.9 8.8,-12.5 C8.8,-8.7 4.5,-6.6 0,0 L9,0" transform="translate(807.01,820.4) matrix(1,0,-0.3215,0.9455,0,0)" fill="none" stroke="#000" stroke-width="1.85" stroke-linecap="round" stroke-linejoin="round"/>
<path d="M0.6,-13.4 C1.3,-15.5 2.8,-16.5 4.6,-16.5 C6.9,-16.5 8.5,-15 8.5,-12.6 C8.5,-10.2 6.8,-8.8 3.6,-8.8 C7.0,-8.8 9,-7 9,-4.5 C9,-1.7 7.0,0 4.5,0 C2.3,0 0.7,-1.0 0,-3.4" transform="translate(821.21,820.4) matrix(1,0,-0.3215,0.9455,0,0)" fill="none" stroke="#000" stroke-width="1.85" stroke-linecap="round" stroke-linejoin="round"/>
<line x1="807.2" y1="825.5" x2="838.1" y2="825.5" stroke="#000" stroke-width="1.1" />
<line x1="838.1" y1="825.5" x2="850" y2="710.9" stroke="#000" stroke-width="1.0" />
<path d="M2.2,-12.8 C3.6,-13.6 4.6,-14.8 5.0,-16.5 L5.0,0" transform="translate(923.36,820.4) matrix(1,0,-0.3215,0.9455,0,0)" fill="none" stroke="#000" stroke-width="1.85" stroke-linecap="round" stroke-linejoin="round"/>
<path d="M0.5,-3.1 C1.1,-1.1 2.4,0 4.2,0 C7.3,0 9,-3.3 9,-9.0 C9,-13.9 7.2,-16.5 4.4,-16.5 C1.8,-16.5 0,-14.4 0,-11.4 C0,-8.4 1.8,-6.4 4.3,-6.4 C6.6,-6.4 8.3,-7.9 8.9,-10.3" transform="translate(935.96,820.4) matrix(1,0,-0.3215,0.9455,0,0)" fill="none" stroke="#000" stroke-width="1.85" stroke-linecap="round" stroke-linejoin="round"/>
<line x1="919.2" y1="825.5" x2="949" y2="825.5" stroke="#000" stroke-width="1.1" />
<line x1="919.2" y1="825.5" x2="912.9" y2="729.8" stroke="#000" stroke-width="1.0" />
<path d="M0.6,-12.6 C1.0,-15.2 2.7,-16.5 4.7,-16.5 C7.0,-16.5 8.8,-14.9 8.8,-12.5 C8.8,-8.7 4.5,-6.6 0,0 L9,0" transform="translate(1003.66,820.4) matrix(1,0,-0.3215,0.9455,0,0)" fill="none" stroke="#000" stroke-width="1.85" stroke-linecap="round" stroke-linejoin="round"/>
<path d="M4.5,-16.5 C1.6,-16.5 0,-13 0,-8.25 C0,-3.5 1.6,0 4.5,0 C7.4,0 9,-3.5 9,-8.25 C9,-13 7.4,-16.5 4.5,-16.5 Z" transform="translate(1017.86,820.4) matrix(1,0,-0.3215,0.9455,0,0)" fill="none" stroke="#000" stroke-width="1.85" stroke-linecap="round" stroke-linejoin="round"/>
<line x1="1001" y1="825.5" x2="1030.5" y2="825.5" stroke="#000" stroke-width="1.1" />
<line x1="1001" y1="825.5" x2="980.1" y2="739.3" stroke="#000" stroke-width="1.0" />
<circle cx="980.1" cy="739.3" r="1.6" stroke="#000" stroke-width="1" fill="#fff"/>
<path d="M8.6,-16.5 L1.8,-16.5 L0.8,-8.9 C2.0,-9.9 3.2,-10.4 4.7,-10.4 C7.2,-10.4 9,-8.4 9,-5.2 C9,-2.0 7.0,0 4.5,0 C2.3,0 0.7,-1.0 0,-3.3" transform="translate(1087.86,820.2) matrix(1,0,-0.3215,0.9455,0,0)" fill="none" stroke="#000" stroke-width="1.85" stroke-linecap="round" stroke-linejoin="round"/>
<line x1="1083.4" y1="825.5" x2="1099.8" y2="825.5" stroke="#000" stroke-width="1.1" />
<line x1="1083.4" y1="825.5" x2="963" y2="695.3" stroke="#000" stroke-width="1.0" />
<circle cx="963" cy="695.3" r="1.6" stroke="#000" stroke-width="1" fill="#fff"/>
<path d="M2.2,-12.8 C3.6,-13.6 4.6,-14.8 5.0,-16.5 L5.0,0" transform="translate(1170.76,820.2) matrix(1,0,-0.3215,0.9455,0,0)" fill="none" stroke="#000" stroke-width="1.85" stroke-linecap="round" stroke-linejoin="round"/>
<path d="M4.5,-16.5 C1.6,-16.5 0,-13 0,-8.25 C0,-3.5 1.6,0 4.5,0 C7.4,0 9,-3.5 9,-8.25 C9,-13 7.4,-16.5 4.5,-16.5 Z" transform="translate(1183.36,820.2) matrix(1,0,-0.3215,0.9455,0,0)" fill="none" stroke="#000" stroke-width="1.85" stroke-linecap="round" stroke-linejoin="round"/>
<line x1="1165.2" y1="825.5" x2="1195.5" y2="825.5" stroke="#000" stroke-width="1.1" />
<line x1="1165.2" y1="825.5" x2="983.2" y2="695" stroke="#000" stroke-width="1.0" />
<circle cx="983.2" cy="695" r="1.6" stroke="#000" stroke-width="1" fill="#fff"/></svg></body></html>
